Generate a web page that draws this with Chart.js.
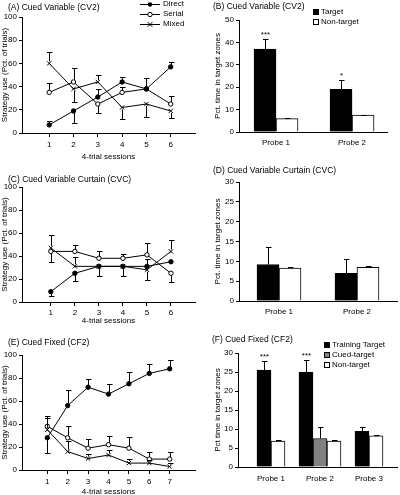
<!DOCTYPE html>
<html><head><meta charset="utf-8">
<script src="https://cdn.jsdelivr.net/npm/chart.js@4.4.1/dist/chart.umd.min.js"></script>
<style>
html,body{margin:0;padding:0;background:#fff}
body{width:400px;height:495px;position:relative;overflow:hidden}
canvas{position:absolute;display:block}
</style></head>
<body>
<canvas id="cA" width="200" height="165" style="left:0;top:0"></canvas>
<canvas id="cB" width="200" height="165" style="left:200px;top:0"></canvas>
<canvas id="cC" width="200" height="165" style="left:0;top:165px"></canvas>
<canvas id="cD" width="200" height="165" style="left:200px;top:165px"></canvas>
<canvas id="cE" width="200" height="170" style="left:0;top:330px"></canvas>
<canvas id="cF" width="200" height="165" style="left:200px;top:330px"></canvas>
<script>
// ---------- DATA ----------
const seriesNames = ['Direct', 'Serial', 'Mixed'];
const pctTicks = [0, 20, 40, 60, 80, 100];

// (A) Cued Variable (CV2)
const sessionsA = [1, 2, 3, 4, 5, 6];
const directA = [7, 19, 31, 44, 38, 57];
const serialA = [35, 44, 25, 35, 38, 25];
const mixedA  = [60, 38, 44, 22, 25, 19];
const directAErr = [3, -10, 7, 4, 0, 4];
const serialAErr = [8, 12, -8, 5, 9, 7];
const mixedAErr  = [10, -11, 6, -10, -11, -6];

// (C) Cued Variable Curtain (CVC)
const sessionsC = [1, 2, 3, 4, 5, 6];
const directC = [9, 25, 31, 31, 31, 35];
const serialC = [44, 44, 38, 38, 41, 25];
const mixedC  = [47, 31, 31, 31, 28, 44];
const directCErr = [-4, -7, -8, -8, 6, 0];
const serialCErr = [-9, 6, 6, 4, 10, -8];
const mixedCErr  = [11, 8, 0, 0, -9, 10];

// (E) Cued Fixed (CF2)
const sessionsE = [1, 2, 3, 4, 5, 6, 7];
const directE = [28, 56, 72, 66, 75, 84, 88];
const serialE = [38, 28, 19, 22, 19, 9.5, 9.5];
const mixedE  = [35, 16, 10, 13, 6, 6, 3];
const directEErr = [-13, 14, 7, 9, 10, 8, 8];
const serialEErr = [9, 10, 8, 8, 10, 6.5, 6.5];
const mixedEErr  = [10, 9, 4, 4, 4, 3, 3];

// (B) Cued Variable (CV2) probes
const probesB = ['Probe 1', 'Probe 2'];
const targetB = [37, 19];
const targetBErr = [4.5, 4];
const nonTargetB = [6, 7.5];
const nonTargetBErr = [0.3, 0.3];
const starsB = ['***', '*'];
const ticksB = [0, 10, 20, 30, 40, 50];

// (D) Cued Variable Curtain (CVC) probes
const probesD = ['Probe 1', 'Probe 2'];
const targetD = [9.2, 7];
const targetDErr = [4.3, 3.6];
const nonTargetD = [8.3, 8.5];
const nonTargetDErr = [0.3, 0.3];
const ticksD = [0, 5, 10, 15, 20, 25, 30];

// (F) Cued Fixed (CF2) probes
const probesF = ['Probe 1', 'Probe 2', 'Probe 3'];
const trainingF = [25.5, 25, 9.4];
const trainingFErr = [2.5, 3.2, 1.2];
const cuedF = [null, 7.5, null];
const cuedFErr = [null, 3.1, null];
const nonTargetF = [6.8, 6.8, 8.2];
const nonTargetFErr = [0.2, 0.3, 0.2];
const starsF = ['***', '***', ''];
const ticksF = [0, 5, 10, 15, 20, 25, 30];

// ---------- STYLE / PLUGINS ----------
const FAMILY = '"Liberation Sans", Arial, sans-serif';
const TITLE_FS = 8.5;
const LEG_FS = 8;
const TICK_FS = 8;
const AX_FS = 8;
const tickFont = {family: FAMILY, size: TICK_FS, lineHeight: 1.2};
const axFont = {family: FAMILY, size: AX_FS, lineHeight: 1.2};

function drawMarker(ctx, style, x, y, r) {
  ctx.save();
  ctx.lineWidth = 1; ctx.strokeStyle = '#000';
  if (style === 'filled') {
    ctx.fillStyle = '#000';
    ctx.beginPath(); ctx.arc(x, y, r, 0, Math.PI * 2); ctx.fill();
  } else if (style === 'open') {
    ctx.fillStyle = '#fff';
    ctx.beginPath(); ctx.arc(x, y, r, 0, Math.PI * 2); ctx.fill(); ctx.stroke();
  } else {
    const d = r * 0.8;
    ctx.beginPath();
    ctx.moveTo(x - d, y - d); ctx.lineTo(x + d, y + d);
    ctx.moveTo(x - d, y + d); ctx.lineTo(x + d, y - d);
    ctx.stroke();
  }
  ctx.restore();
}

const deco = {
  id: 'deco',
  afterDraw(chart, args, o) {
    const ctx = chart.ctx;
    ctx.save();
    ctx.fillStyle = '#000';
    ctx.textBaseline = 'middle';
    ctx.textAlign = 'left';
    if (o.title) {
      ctx.font = TITLE_FS + 'px ' + FAMILY;
      ctx.fillText(o.title.text, o.title.x, o.title.y);
    }
    ctx.font = LEG_FS + 'px ' + FAMILY;
    const L = o.legend;
    if (L) {
      chart.data.datasets.forEach((ds, k) => {
        const y = L.y + k * L.dy;
        if (L.type === 'line') {
          const yy = Math.round(y) + 0.5;
          ctx.strokeStyle = '#000'; ctx.lineWidth = 1;
          ctx.beginPath(); ctx.moveTo(L.x, yy); ctx.lineTo(L.x + L.len, yy); ctx.stroke();
          drawMarker(ctx, ds.marker, L.x + L.len / 2, yy, ds.marker === 'cross' ? 3 : 2.2);
          ctx.fillStyle = '#000';
          ctx.fillText(ds.label, L.x + L.len + L.gap, y);
        } else {
          const s = L.size;
          ctx.fillStyle = ds.backgroundColor;
          ctx.fillRect(L.x, y - s / 2, s, s);
          ctx.strokeStyle = '#000'; ctx.lineWidth = 1;
          ctx.strokeRect(L.x + 0.5, y - s / 2 + 0.5, s - 1, s - 1);
          ctx.fillStyle = '#000';
          ctx.fillText(ds.label, L.x + s + L.gap, y);
        }
      });
    }
    ctx.restore();
  }
};

const errBars = {
  id: 'errBars',
  afterDatasetsDraw(chart) {
    const ctx = chart.ctx, ys = chart.scales.y;
    ctx.save();
    ctx.strokeStyle = '#000'; ctx.lineWidth = 1;
    chart.data.datasets.forEach((ds, di) => {
      if (!ds.errors) return;
      const meta = chart.getDatasetMeta(di);
      ds.data.forEach((pt, i) => {
        const e = ds.errors[i];
        if (pt.y === null || e === null || e === 0) return;
        const el = meta.data[i];
        const x = Math.round(el.x) + 0.5;
        const yEnd = Math.round(ys.getPixelForValue(pt.y + e)) + 0.5;
        let y0 = el.y;
        if (chart.config.type === 'line') y0 = el.y + (e > 0 ? -2 : 2);
        ctx.beginPath();
        ctx.moveTo(x, y0); ctx.lineTo(x, yEnd);
        ctx.moveTo(x - 2.5, yEnd); ctx.lineTo(x + 3, yEnd);
        ctx.stroke();
        if (ds.stars && ds.stars[i]) {
          ctx.fillStyle = '#000';
          ctx.font = TICK_FS + 'px ' + FAMILY;
          ctx.textAlign = 'center'; ctx.textBaseline = 'bottom';
          ctx.fillText(ds.stars[i], x, yEnd - 1);
        }
      });
    });
    ctx.restore();
  }
};

const axisCommon = {
  border: {display: true, color: '#000', width: 1},
  ticks: {color: '#000', font: tickFont, autoSkip: false, maxRotation: 0, minRotation: 0}
};

function lineChart(id, g) {
  const styles = ['filled', 'open', 'cross'];
  const datasets = g.series.map((s, k) => ({
    label: seriesNames[k],
    marker: styles[k],
    data: s.data.map((v, i) => ({x: g.sessions[i], y: v})),
    errors: s.err,
    borderColor: '#000',
    borderWidth: 1,
    pointStyle: k === 2 ? 'crossRot' : 'circle',
    pointRadius: k === 2 ? 3 : 2.2,
    pointBorderWidth: 1,
    pointBorderColor: '#000',
    pointBackgroundColor: k === 1 ? '#fff' : '#000',
    tension: 0,
    fill: false
  }));
  const lh = AX_FS * 1.2;
  return new Chart(document.getElementById(id), {
    type: 'line',
    data: {datasets},
    plugins: [errBars, deco],
    options: {
      responsive: false, animation: false, events: [],
      layout: {padding: {top: g.top, left: 0, right: 0, bottom: 0}},
      plugins: {legend: {display: false}, tooltip: {enabled: false}, deco: {title: g.title, legend: g.legend}},
      scales: {
        x: Object.assign({}, axisCommon, {
          type: 'linear', min: g.xmin, max: g.xmax, offset: false,
          afterBuildTicks: s => { s.ticks = g.sessions.map(v => ({value: v})); },
          afterFit: s => { s.height = g.h - g.bottom; },
          grid: {display: true, drawOnChartArea: false, drawTicks: true, tickLength: 4, color: '#000'},
          ticks: Object.assign({}, axisCommon.ticks, {padding: g.xPad, callback: v => String(v)}),
          title: {display: true, text: '4-trial sessions', color: '#000', font: axFont,
                  padding: {top: 0, bottom: g.h - g.xTitleY - lh / 2}}
        }),
        y: Object.assign({}, axisCommon, {
          min: 0, max: 100,
          afterBuildTicks: s => { s.ticks = pctTicks.map(v => ({value: v})); },
          afterFit: s => { s.width = 22; },
          grid: {display: true, drawOnChartArea: false, drawTicks: true, tickLength: 3, color: '#000'},
          ticks: Object.assign({}, axisCommon.ticks, {padding: 2}),
          title: {display: true, text: 'Strategy use (Pct. of trials)', color: '#000', font: axFont,
                  padding: {top: 0, bottom: 0}}
        })
      }
    }
  });
}

function barChart(id, g) {
  const datasets = g.series.map(s => ({
    type: 'bar',
    label: s.label,
    data: s.data.map((v, i) => ({x: i + 1, y: v})),
    errors: s.err,
    stars: s.stars,
    backgroundColor: s.color,
    borderColor: '#000',
    borderWidth: 1,
    borderSkipped: 'start',
    barThickness: g.barW,
    skipNull: true
  }));
  return new Chart(document.getElementById(id), {
    type: 'bar',
    data: {datasets},
    plugins: [errBars, deco],
    options: {
      responsive: false, animation: false, events: [],
      layout: {padding: {top: g.top, left: 0, right: g.right, bottom: 0}},
      plugins: {legend: {display: false}, tooltip: {enabled: false}, deco: {title: g.title, legend: g.legend}},
      scales: {
        x: Object.assign({}, axisCommon, {
          type: 'linear', min: g.xmin, max: g.xmax, offset: false,
          afterBuildTicks: s => { s.ticks = g.probes.map((p, i) => ({value: i + 1})); },
          afterFit: s => { s.height = g.h - g.bottom; },
          grid: {display: false, drawTicks: false, tickLength: 0, offset: false},
          ticks: Object.assign({}, axisCommon.ticks, {padding: g.xPad, callback: v => g.probes[Math.round(v) - 1]})
        }),
        y: Object.assign({}, axisCommon, {
          min: 0, max: g.yTicks[g.yTicks.length - 1],
          afterBuildTicks: s => { s.ticks = g.yTicks.map(v => ({value: v})); },
          afterFit: s => { s.width = g.left; },
          grid: {display: true, drawOnChartArea: false, drawTicks: true, tickLength: 3, color: '#000'},
          ticks: Object.assign({}, axisCommon.ticks, {padding: 2}),
          title: {display: true, text: g.yTitle, color: '#000', font: axFont, padding: {top: g.yTitlePad, bottom: 0}}
        })
      }
    }
  });
}

// ---------- CHARTS ----------
lineChart('cA', {
  sessions: sessionsA, xmin: -0.12, xmax: 7, h: 165, top: 17, bottom: 133, xTitleY: 157, xPad: 3,
  series: [{data: directA, err: directAErr}, {data: serialA, err: serialAErr}, {data: mixedA, err: mixedAErr}],
  title: {text: '(A) Cued Variable (CV2)', x: 8, y: 8},
  legend: {type: 'line', x: 140, y: 4, dy: 10, len: 20, gap: 3}
});

barChart('cB', {
  probes: probesB, xmin: 0.513, xmax: 2.46, h: 165, top: 20, bottom: 132, left: 39, right: 13,
  barW: 22, xPad: 6, yTicks: ticksB, yTitle: 'Pct. time in target zones', yTitlePad: 13,
  series: [
    {label: 'Target', data: targetB, err: targetBErr, color: '#000', stars: starsB},
    {label: 'Non-target', data: nonTargetB, err: nonTargetBErr, color: '#fff'}
  ],
  title: {text: '(B) Cued Variable (CV2)', x: 13, y: 7},
  legend: {type: 'box', x: 113, y: 12, dy: 10, size: 6, gap: 2}
});

lineChart('cC', {
  sessions: sessionsC, xmin: -0.2, xmax: 7, h: 165, top: 22, bottom: 137, xTitleY: 156, xPad: 2,
  series: [{data: directC, err: directCErr}, {data: serialC, err: serialCErr}, {data: mixedC, err: mixedCErr}],
  title: {text: '(C) Cued Variable Curtain (CVC)', x: 8, y: 15}
});

barChart('cD', {
  probes: probesD, xmin: 0.487, xmax: 2.513, h: 165, top: 17, bottom: 136, left: 39, right: 3,
  barW: 22, xPad: 6, yTicks: ticksD, yTitle: 'Pct. time in target zones', yTitlePad: 13,
  series: [
    {label: 'Target', data: targetD, err: targetDErr, color: '#000'},
    {label: 'Non-target', data: nonTargetD, err: nonTargetDErr, color: '#fff'}
  ],
  title: {text: '(D) Cued Variable Curtain (CVC)', x: 13, y: 6}
});

lineChart('cE', {
  sessions: sessionsE, xmin: -0.24, xmax: 8.24, h: 170, top: 25, bottom: 140, xTitleY: 162, xPad: 3,
  series: [{data: directE, err: directEErr}, {data: serialE, err: serialEErr}, {data: mixedE, err: mixedEErr}],
  title: {text: '(E) Cued Fixed (CF2)', x: 8, y: 13}
});

barChart('cF', {
  probes: probesF, xmin: 0.327, xmax: 3.572, h: 165, top: 23, bottom: 137, left: 38, right: 3,
  barW: 14, xPad: 7, yTicks: ticksF, yTitle: 'Pct time in target zones', yTitlePad: 13,
  series: [
    {label: 'Training Target', data: trainingF, err: trainingFErr, color: '#000', stars: starsF},
    {label: 'Cued-target', data: cuedF, err: cuedFErr, color: '#808080'},
    {label: 'Non-target', data: nonTargetF, err: nonTargetFErr, color: '#fff'}
  ],
  title: {text: '(F) Cued Fixed (CF2)', x: 12, y: 10},
  legend: {type: 'box', x: 124, y: 15, dy: 10, size: 6, gap: 2}
});
</script>
</body></html>
